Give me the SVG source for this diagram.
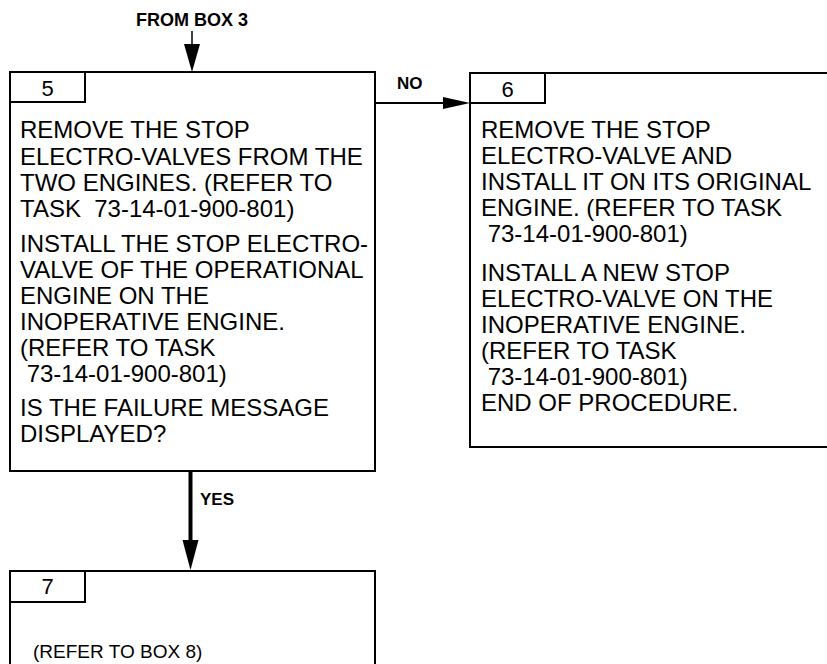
<svg xmlns="http://www.w3.org/2000/svg" width="827" height="664" viewBox="0 0 827 664">
<style>
.box{fill:#fff;stroke:#000;stroke-width:2}
.t{font-family:"Liberation Sans",Arial,sans-serif;font-size:24px;fill:#000}
.n{font-family:"Liberation Sans",Arial,sans-serif;font-size:22px;fill:#000}
.s{font-family:"Liberation Sans",Arial,sans-serif;font-size:19px;fill:#000}
.b{font-family:"Liberation Sans",Arial,sans-serif;font-size:17px;font-weight:bold;fill:#000}
.ln{stroke:#000;fill:none}
</style>
<rect width="827" height="664" fill="#fff"/>
<g id="connectors">
<text class="b" x="192" y="26" text-anchor="middle" style="font-size:18px">FROM BOX 3</text>
<line class="ln" x1="192" y1="31" x2="192" y2="46" stroke-width="1.5"/>
<polygon points="184,44 200,44 192,72" fill="#000"/>
<line class="ln" x1="376" y1="103" x2="445" y2="103" stroke-width="2"/>
<polygon points="443,97 470,103 443,109" fill="#000"/>
<text class="b" x="397" y="89">NO</text>
<line class="ln" x1="190.5" y1="471" x2="190.5" y2="542" stroke-width="4"/>
<polygon points="182.5,540 198.5,540 190.5,570" fill="#000"/>
<text class="b" x="200" y="505">YES</text>
</g>
<g id="box5">
<rect class="box" x="10" y="72" width="365" height="399"/>
<rect class="box" x="10" y="72" width="75" height="30"/>
<text class="n" x="47.5" y="96" text-anchor="middle">5</text>
<text class="t" x="20" y="138">REMOVE THE STOP</text>
<text class="t" x="20" y="165">ELECTRO-VALVES FROM THE</text>
<text class="t" x="20" y="191">TWO ENGINES. (REFER TO</text>
<text class="t" x="20" y="217" xml:space="preserve">TASK  73-14-01-900-801)</text>
<text class="t" x="20" y="252">INSTALL THE STOP ELECTRO-</text>
<text class="t" x="20" y="278">VALVE OF THE OPERATIONAL</text>
<text class="t" x="20" y="304">ENGINE ON THE</text>
<text class="t" x="20" y="330">INOPERATIVE ENGINE.</text>
<text class="t" x="20" y="356">(REFER TO TASK</text>
<text class="t" x="20" y="382" xml:space="preserve"> 73-14-01-900-801)</text>
<text class="t" x="20" y="416">IS THE FAILURE MESSAGE</text>
<text class="t" x="20" y="442">DISPLAYED?</text>
</g>
<g id="box6">
<path class="box" d="M828,73 H470 V447 H828"/>
<rect class="box" x="470" y="73" width="75" height="30"/>
<text class="n" x="507.5" y="97" text-anchor="middle">6</text>
<text class="t" x="481" y="138">REMOVE THE STOP</text>
<text class="t" x="481" y="164">ELECTRO-VALVE AND</text>
<text class="t" x="481" y="190">INSTALL IT ON ITS ORIGINAL</text>
<text class="t" x="481" y="216">ENGINE. (REFER TO TASK</text>
<text class="t" x="481" y="242" xml:space="preserve"> 73-14-01-900-801)</text>
<text class="t" x="481" y="281">INSTALL A NEW STOP</text>
<text class="t" x="481" y="307">ELECTRO-VALVE ON THE</text>
<text class="t" x="481" y="333">INOPERATIVE ENGINE.</text>
<text class="t" x="481" y="359">(REFER TO TASK</text>
<text class="t" x="481" y="385" xml:space="preserve"> 73-14-01-900-801)</text>
<text class="t" x="481" y="411">END OF PROCEDURE.</text>
</g>
<g id="box7">
<path class="box" d="M10,665 V571 H375 V665"/>
<rect class="box" x="10" y="571" width="75" height="31"/>
<text class="n" x="47.5" y="594" text-anchor="middle">7</text>
<text class="s" x="33" y="658">(REFER TO BOX 8)</text>
</g>
</svg>
